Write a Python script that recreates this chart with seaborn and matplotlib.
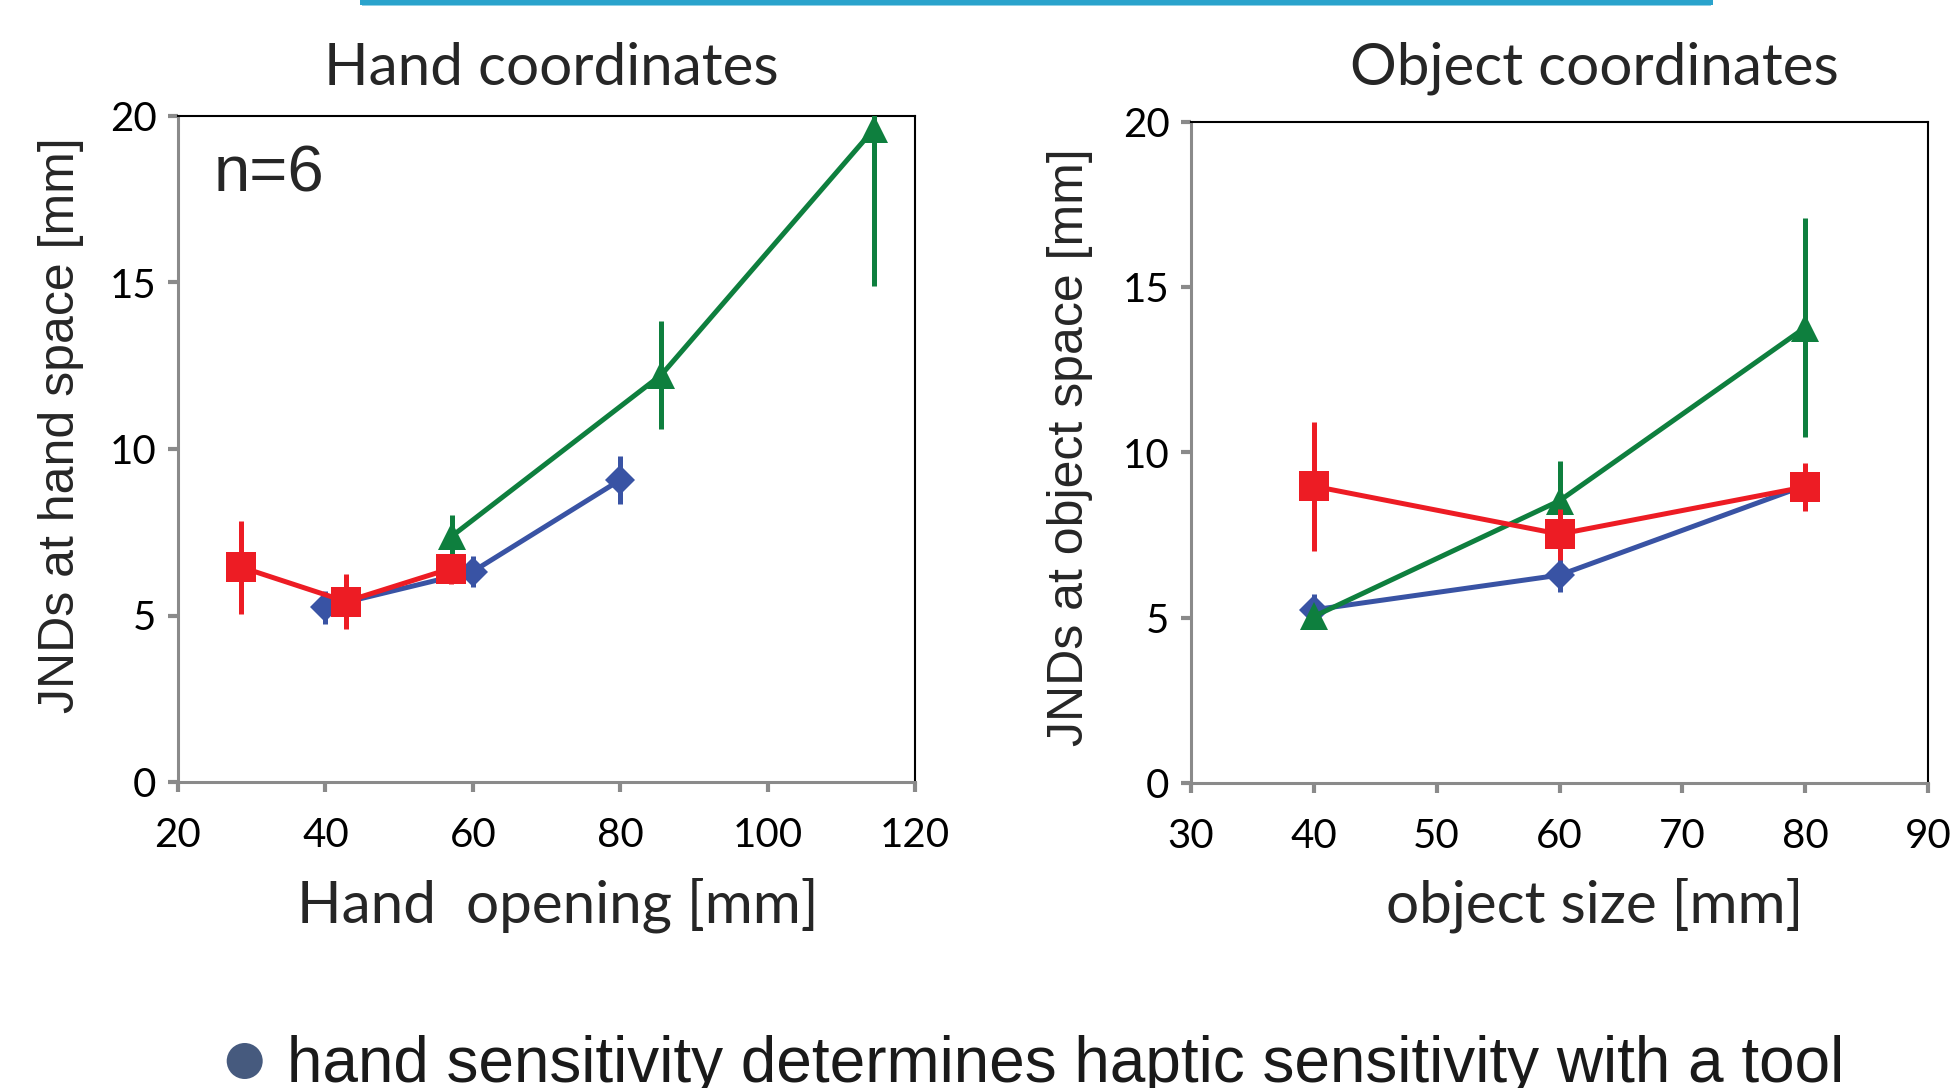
import matplotlib
matplotlib.use("Agg")
import matplotlib.pyplot as plt
from matplotlib.patches import Rectangle, Ellipse
import seaborn as sns
import numpy as np

# ---------------- data ----------------
# Hand coordinates panel
hand_blue_x = [40, 60, 80]
hand_blue_y = [5.25, 6.32, 9.07]
hand_blue_err = [0.5, 0.47, 0.72]

hand_red_x = [28.6, 42.8, 57.0]
hand_red_y = [6.45, 5.42, 6.41]
hand_red_err = [1.4, 0.82, 0.45]

hand_green_x = [57.2, 85.6, 114.4]
hand_green_y = [7.39, 12.23, 19.6]
hand_green_err = [0.62, 1.62, 4.7]

# Object coordinates panel
obj_x = [40, 60, 80]
obj_blue_y = [5.24, 6.29, 9.0]
obj_blue_err = [0.48, 0.5, 0.4]
obj_red_y = [8.98, 7.53, 8.96]
obj_red_err = [1.95, 0.77, 0.73]
obj_green_y = [5.04, 8.54, 13.78]
obj_green_err = [0.25, 1.2, 3.32]

hand_xticks = [20, 40, 60, 80, 100, 120]
obj_xticks = [30, 40, 50, 60, 70, 80, 90]
yticks = [0, 5, 10, 15, 20]

titles = ["Hand coordinates", "Object coordinates"]
xlabels = ["Hand  opening [mm]", "object size [mm]"]
ylabels = ["JNDs at hand space [mm]", "JNDs at object space [mm]"]
annotation = "n=6"
bullet_text = "hand sensitivity determines haptic sensitivity with a tool"

BLUE = "#3953a4"
RED = "#ed1c24"
GREEN = "#0e7f3e"
GRAY = "#8a8a8a"

# ---------------- style ----------------
sns.set_style("white")
plt.rcParams["font.family"] = ["Lato", "DejaVu Sans"]
TICK_FONT = ["Lato", "DejaVu Sans"]
ARIAL = ["Liberation Sans", "DejaVu Sans"]

W, H = 1954, 1088
fig = plt.figure(figsize=(W / 100, H / 100), dpi=100)


def fx(px):
    return px / W


def fy(py):
    return 1 - py / H


# axes rectangles (pixels): left, top, right, bottom
ax1 = fig.add_axes([fx(178), fy(782), fx(915) - fx(178), fy(116) - fy(782)])
ax2 = fig.add_axes([fx(1191), fy(783), fx(1928) - fx(1191), fy(122) - fy(783)])

series_style = {
    "blue": dict(color=BLUE, marker="D", ms=15.5, z=3),
    "green": dict(color=GREEN, marker="^", ms=20, z=4),
    "red": dict(color=RED, marker="s", ms=21, z=5),
}
LW = 3.6


def draw_series(ax, x, y, err, key):
    st = series_style[key]
    ax.errorbar(x, y, yerr=err, fmt="none", ecolor=st["color"],
                elinewidth=LW, capsize=0, zorder=st["z"])
    n_before = len(ax.lines)
    sns.lineplot(x=x, y=y, ax=ax, color=st["color"], marker=st["marker"],
                 markersize=st["ms"], markeredgewidth=0, linewidth=LW,
                 zorder=st["z"], legend=False)
    for ln in ax.lines[n_before:]:
        ln.set_linewidth(LW)
        ln.set_markeredgewidth(0)
        ln.set_markersize(st["ms"])


draw_series(ax1, hand_blue_x, hand_blue_y, hand_blue_err, "blue")
draw_series(ax1, hand_green_x, hand_green_y, hand_green_err, "green")
draw_series(ax1, hand_red_x, hand_red_y, hand_red_err, "red")

draw_series(ax2, obj_x, obj_blue_y, obj_blue_err, "blue")
draw_series(ax2, obj_x, obj_green_y, obj_green_err, "green")
draw_series(ax2, obj_x, obj_red_y, obj_red_err, "red")

ax1.set_xlim(20, 120)
ax2.set_xlim(30, 90)

for i, (ax, xt) in enumerate([(ax1, hand_xticks), (ax2, obj_xticks)]):
    ax.set_ylim(0, 20)
    ax.set_xticks(xt)
    ax.set_yticks(yticks)
    ax.set_xticklabels([str(v) for v in xt], fontsize=29, family=TICK_FONT)
    ax.set_yticklabels([str(v) for v in yticks], fontsize=29, family=TICK_FONT)
    ax.tick_params(axis="both", direction="out", length=7, width=3,
                   color=GRAY, labelcolor="black")
    ax.tick_params(axis="y", pad=8.5, left=True)
    ax.tick_params(axis="x", pad=18, bottom=True)
    for s in ["left", "bottom"]:
        ax.spines[s].set_color(GRAY)
        ax.spines[s].set_linewidth(2.2)
    for s in ["top", "right"]:
        ax.spines[s].set_color("black")
        ax.spines[s].set_linewidth(1.5)
    ax.set_facecolor("white")
    ax.grid(False)

# titles
ax1.set_title(titles[0], fontsize=42, x=0.507, y=1.0465, va="baseline", pad=0)
ax2.set_title(titles[1], fontsize=42, x=0.547, y=1.056, va="baseline", pad=0)

# x labels
ax1.set_xlabel(xlabels[0], fontsize=42)
ax2.set_xlabel(xlabels[1], fontsize=42)
ax1.xaxis.label.set_va("baseline")
ax2.xaxis.label.set_va("baseline")
ax1.xaxis.set_label_coords(0.5156, -0.2117)
ax2.xaxis.set_label_coords(0.548, -0.2118)

# y labels
ax1.set_ylabel(ylabels[0], fontsize=36, family=ARIAL)
ax2.set_ylabel(ylabels[1], fontsize=36, family=ARIAL)
for ax in (ax1, ax2):
    ax.yaxis.label.set_va("center")
    ax.yaxis.label.set_ha("center")
ax1.yaxis.set_label_coords(-0.1588, 0.536)
ax2.yaxis.set_label_coords(-0.164, 0.508)

# n=6 annotation
ax1.text(0.0488, 0.8863, annotation, transform=ax1.transAxes, fontsize=47,
         family=ARIAL, va="baseline", ha="left")

# top blue bar
fig.patches.append(Rectangle((fx(360), fy(5)), fx(1713) - fx(360), 6 / H,
                             transform=fig.transFigure, facecolor="#2aa3cc",
                             edgecolor="none", zorder=1))
fig.patches.append(Rectangle((fx(362), fy(6)), fx(1711) - fx(362), 1.5 / H,
                             transform=fig.transFigure, facecolor="#8fd0e6",
                             edgecolor="none", zorder=1))

# bullet and text
fig.patches.append(Ellipse((fx(244.7), fy(1061)), 36 / W, 36 / H,
                           transform=fig.transFigure, facecolor="#465a7e",
                           edgecolor="none"))
fig.text(fx(287), fy(1081.7), bullet_text, fontsize=46, family=ARIAL,
         color="#1a1a1a", va="baseline", ha="left")

fig.savefig("out.png", dpi=100, facecolor="white")
